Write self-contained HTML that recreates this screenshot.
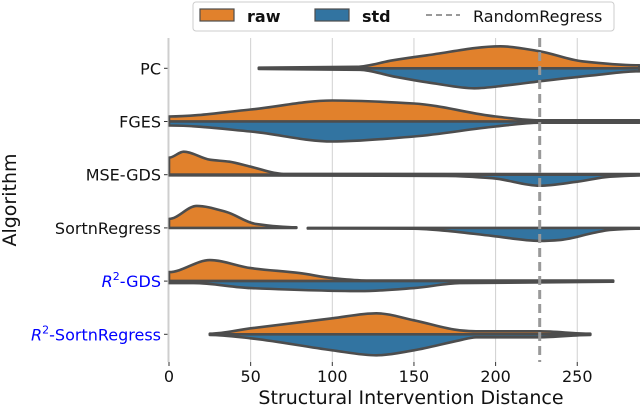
<!DOCTYPE html>
<html><head><meta charset="utf-8"><style>
html,body{margin:0;padding:0;background:#fff;}
svg{display:block;font-family:"DejaVu Sans","Liberation Sans",sans-serif;}
</style></head><body>
<svg id="chart" width="640" height="410" xmlns="http://www.w3.org/2000/svg">
<g id="grid"></g>
<g id="violins"></g>
<g id="axes"></g>
<text x="411" y="404" font-size="19" text-anchor="middle" fill="#111">Structural Intervention Distance</text>
<text transform="translate(16,200) rotate(-90)" font-size="19" text-anchor="middle" fill="#111">Algorithm</text>
<g>
<rect x="193" y="2" width="421" height="29" rx="3" fill="#fff" stroke="#ccc" stroke-width="1"/>
<rect x="200" y="9" width="34" height="12" fill="#e1812c" stroke="#4d4d4d" stroke-width="1.2"/>
<text x="247" y="22" font-size="16" font-weight="bold" fill="#111">raw</text>
<rect x="315" y="9" width="34" height="12" fill="#3274a1" stroke="#4d4d4d" stroke-width="1.2"/>
<text x="362" y="22" font-size="16" font-weight="bold" fill="#111">std</text>
<line x1="426" y1="15" x2="460" y2="15" stroke="#999" stroke-width="2" stroke-dasharray="6,4"/>
<text x="473" y="22" font-size="16" fill="#111">RandomRegress</text>
</g>
</svg>
<script>
const categories = ["PC","FGES","MSE-GDS","SortnRegress","R2-GDS","R2-SortnRegress"];
const xTicks = [0,50,100,150,200,250];
const randomRegress = 227;
const pcRawX = [55,115,137,158,203,227,253,288];
const pcRawD = [0.6,1.5,8,13,22,17,7,3];
const pcStdX = [55,117,137,162,187,207,227,260,288];
const pcStdD = [0.6,1.5,8,15,20,17,13,7,3];
const fgesRawX = [0,50,100,150,200,227,288];
const fgesRawD = [5,12,21,18,5,1.2,1.2];
const fgesStdX = [0,50,100,150,200,227,288];
const fgesStdD = [4,10,20,15,5,1.2,1.2];
const mseRawX = [0,9,25,37,50,70,288];
const mseRawD = [17,23,15,13,8,0.8,0.6];
const mseStdX = [0,170,198,227,250,270,288];
const mseStdD = [0.6,1.2,3.5,11,7,2,0.8];
const sortRawX = [0,17,35,53,78];
const sortRawD = [9,22,16,4,0.6];
const sortStdX = [85,150,167,198,227,240,260,270,288];
const sortStdD = [0.6,0.8,2.5,8,13,12,5,2,0.8];
const r2gdsRawX = [0,25,50,80,100,121,272];
const r2gdsRawD = [9,21,13,8,3,0.6,0.6];
const r2gdsStdX = [0,15,50,117,150,178,272];
const r2gdsStdD = [2,2,7,10,7,2,0.6];
const r2sRawX = [25,50,100,127,150,178,188,227,258];
const r2sRawD = [0.6,6,16,21,14,4,3,3,0.6];
const r2sStdX = [25,50,100,127,150,178,188,227,258];
const r2sStdD = [0.6,4,16,21,16,6,3,3,0.6];
const rawSeries = [[pcRawX,pcRawD],[fgesRawX,fgesRawD],[mseRawX,mseRawD],[sortRawX,sortRawD],[r2gdsRawX,r2gdsRawD],[r2sRawX,r2sRawD]];
const stdSeries = [[pcStdX,pcStdD],[fgesStdX,fgesStdD],[mseStdX,mseStdD],[sortStdX,sortStdD],[r2gdsStdX,r2gdsStdD],[r2sStdX,r2sStdD]];

const NS="http://www.w3.org/2000/svg";
const X0=169, PX=1.633, PL=168, PR=640, PT=38, PB=362;
const xs=v=>X0+v*PX;
const ys=i=>68.3+i*53.2;
function mk(tag,attrs,parent){const e=document.createElementNS(NS,tag);for(const k in attrs)e.setAttribute(k,attrs[k]);parent.appendChild(e);return e;}
const grid=document.getElementById('grid'), vg=document.getElementById('violins'), ax=document.getElementById('axes');
xTicks.forEach(t=>{
  const g=mk('line',{x1:xs(t),x2:xs(t),y1:PT,y2:PB,stroke:'#d0d0d0','stroke-width':1},grid);
  
  
  const tk=mk('line',{x1:xs(t),x2:xs(t),y1:PB,y2:PB+4,stroke:'#333','stroke-width':1},ax);
  
  
  const lb=mk('text',{x:xs(t),y:PB+20,'font-size':16,'text-anchor':'middle',fill:'#111'},ax);
  lb.textContent=t;
  
  
});
function half(X,D,cy,sign,fill){
  const P=X.map((x,i)=>[xs(x),cy+sign*D[i]]);
  const n=P.length;
  const m=P.map((p,i)=>{
    if(i===0||i===n-1) return 0;
    const s1=(p[1]-P[i-1][1])/(p[0]-P[i-1][0]), s2=(P[i+1][1]-p[1])/(P[i+1][0]-p[0]);
    if(s1*s2<=0) return 0;
    return 2/(1/s1+1/s2);
  });
  let d=`M${P[0][0]},${cy} L${P[0][0]},${P[0][1]}`;
  for(let i=0;i<n-1;i++){
    const h=(P[i+1][0]-P[i][0])/3;
    d+=` C${P[i][0]+h},${P[i][1]+m[i]*h} ${P[i+1][0]-h},${P[i+1][1]-m[i+1]*h} ${P[i+1][0]},${P[i+1][1]}`;
  }
  d+=` L${P[n-1][0]},${cy} Z`;
  return mk('path',{d:d,fill:fill,stroke:'#4d4d4d','stroke-width':2.6,'stroke-linejoin':'round'},vg);
}
categories.forEach((c,i)=>{
  const cy=ys(i);
  const r=rawSeries[i], s=stdSeries[i];
  const pr=half(r[0],r[1],cy,-1,'#e1812c');
  
  
  const ps=half(s[0],s[1],cy,1,'#3274a1');
  
  
  const tk=mk('line',{x1:PL-4,x2:PL,y1:cy,y2:cy,stroke:'#333','stroke-width':1},ax);
  
  
  const lb=mk('text',{x:PL-7,y:cy+6,'font-size':16,'text-anchor':'end',fill:c.startsWith('R2')?'#0000ff':'#111'},ax);
  if(c.startsWith('R2')){
    const t1=mk('tspan',{'font-style':'italic'},lb);t1.textContent='R';
    const t2=mk('tspan',{'font-size':11,dy:-7},lb);t2.textContent='2';
    const t3=mk('tspan',{dy:7},lb);t3.textContent=c.slice(2);
  } else lb.textContent=c;
  
  
});
const rr=mk('line',{x1:xs(randomRegress),x2:xs(randomRegress),y1:PT,y2:PB,stroke:'#999','stroke-width':3,'stroke-dasharray':'9,5'},vg);


const sp=mk('line',{x1:PL,x2:PL,y1:PT,y2:PB,stroke:'#ccc','stroke-width':1},ax);


</script>
</body></html>
